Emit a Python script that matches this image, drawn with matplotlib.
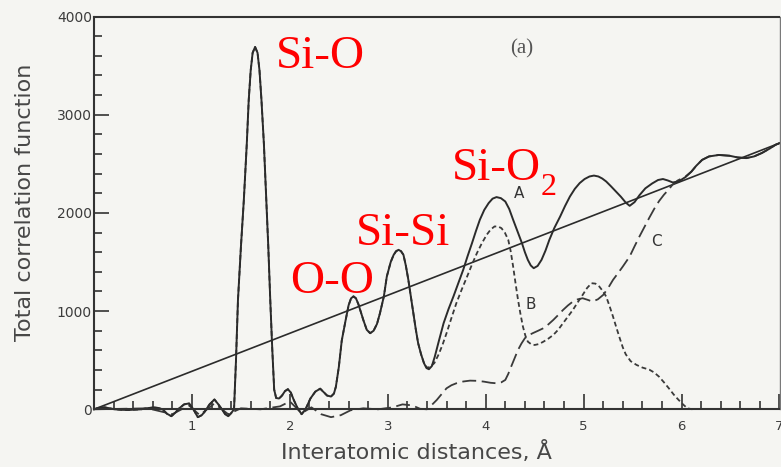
import matplotlib
matplotlib.use("Agg")
import matplotlib.pyplot as plt
from matplotlib.ticker import MultipleLocator, FixedLocator

plt.rcParams['lines.scale_dashes'] = False

# ---------------- data ----------------
# Curve A : total correlation function (solid)
A_x = [0.00, 0.05, 0.11, 0.16, 0.21, 0.28, 0.35, 0.42, 0.48, 0.55, 0.62, 0.66, 0.70, 0.745, 0.79,
       0.83, 0.87, 0.92, 0.97, 1.015, 1.06, 1.10, 1.13, 1.18, 1.23, 1.27, 1.31, 1.34, 1.37, 1.40,
       1.43, 1.45, 1.47, 1.50, 1.53, 1.56, 1.58, 1.60, 1.62, 1.645, 1.67, 1.69, 1.71, 1.735, 1.76,
       1.78, 1.80, 1.82, 1.84, 1.86, 1.89, 1.92, 1.95, 1.98, 2.01, 2.04, 2.08, 2.12, 2.16, 2.21,
       2.26, 2.31, 2.35, 2.38, 2.42, 2.45, 2.47, 2.50, 2.53, 2.57, 2.60, 2.625, 2.65, 2.675, 2.70,
       2.75, 2.785, 2.82, 2.855, 2.89, 2.92, 2.96, 2.99, 3.03, 3.06, 3.085, 3.11, 3.135, 3.16, 3.185,
       3.21, 3.235, 3.26, 3.285, 3.31, 3.34, 3.37, 3.395, 3.42, 3.45, 3.48, 3.52, 3.57, 3.62, 3.67,
       3.72, 3.77, 3.815, 3.86, 3.90, 3.94, 3.985, 4.03, 4.07, 4.11, 4.155, 4.20, 4.24, 4.28, 4.325,
       4.37, 4.40, 4.43, 4.46, 4.49, 4.53, 4.57, 4.61, 4.65, 4.70, 4.76, 4.81, 4.86, 4.91, 4.96,
       5.01, 5.06, 5.105, 5.15, 5.19, 5.23, 5.28, 5.33, 5.38, 5.43, 5.47, 5.52, 5.57, 5.63, 5.70,
       5.76, 5.81, 5.86, 5.91, 5.97, 6.04, 6.10, 6.15, 6.21, 6.28, 6.38, 6.49, 6.57, 6.66, 6.74,
       6.82, 6.90, 6.96, 7.00]
A_y = [0, 15, 20, 10, 0, -5, -7, -3, 0, 12, 20, 12, 0, -45, -70,
       -35, 10, 50, 60, 0, -80, -60, -25, 50, 100, 50, -5, -50, -70, -40,
       0, 500, 1110, 1650, 2130, 2700, 3150, 3450, 3630, 3690, 3630, 3450, 3150, 2700, 2130,
       1650, 1110, 620, 200, 115, 110, 140, 185, 205, 170, 95, 10, -50, 0, 110,
       180, 210, 170, 140, 130, 160, 230, 430, 700, 910, 1060, 1130, 1150, 1130, 1070,
       910, 810, 775, 800, 870, 978, 1150, 1352, 1500, 1573, 1610, 1624, 1610, 1573, 1460,
       1318, 1150, 978, 820, 673, 560, 469, 420, 408, 440, 536, 690, 877, 1020, 1148,
       1285, 1420, 1560, 1692, 1815, 1930, 2030, 2100, 2145, 2161, 2150, 2116, 2040, 1930, 1810,
       1692, 1600, 1522, 1465, 1437, 1460, 1522, 1615, 1726, 1845, 1963, 2070, 2167, 2245, 2304,
       2345, 2371, 2380, 2371, 2350, 2320, 2270, 2218, 2165, 2105, 2072, 2110, 2180, 2250, 2300,
       2335, 2345, 2330, 2310, 2320, 2365, 2420, 2480, 2540, 2575, 2590, 2582, 2565, 2558, 2575,
       2610, 2655, 2694, 2710]

# Curve B (short dashes): coincides with A up to x = 3.37, then its own branch
B_split = 3.37
B_tail_x = [3.40, 3.43, 3.475, 3.52, 3.56, 3.60, 3.65, 3.70, 3.755, 3.81, 3.86, 3.91, 3.96, 4.01,
            4.05, 4.09, 4.125, 4.16, 4.195, 4.23, 4.255, 4.28, 4.305, 4.33, 4.355, 4.38, 4.405,
            4.43, 4.465, 4.50, 4.545, 4.59, 4.64, 4.69, 4.74, 4.79, 4.84, 4.89, 4.94, 4.99, 5.035,
            5.08, 5.12, 5.16, 5.195, 5.23, 5.265, 5.30, 5.335, 5.37, 5.40, 5.43, 5.48, 5.54, 5.60,
            5.67, 5.72, 5.77, 5.82, 5.87, 5.92, 5.97, 6.02, 6.06, 6.11]
B_tail_y = [425, 430, 470, 560, 660, 775, 930, 1080, 1220, 1352, 1475, 1590, 1690, 1777,
            1830, 1862, 1862, 1845, 1800, 1726, 1610, 1454, 1280, 1114, 970, 842, 750,
            689, 662, 655, 665, 689, 720, 757, 810, 877, 945, 1012, 1090, 1165, 1235,
            1284, 1280, 1250, 1205, 1148, 1050, 944, 830, 720, 630, 560, 490, 452, 425,
            404, 375, 332, 275, 214, 150, 95, 45, 10, 0]

# Curve C (long dashes)
C_x = [0.00, 0.30, 0.55, 0.80, 0.97, 1.08, 1.23, 1.37, 1.50, 1.70, 1.90, 2.00, 2.12, 2.22, 2.32,
       2.42, 2.52, 2.62, 2.75, 2.90, 3.05, 3.15, 3.25, 3.33, 3.40, 3.45, 3.50, 3.55, 3.60, 3.65,
       3.70, 3.77, 3.84, 3.91, 3.98, 4.05, 4.11, 4.16, 4.20, 4.23, 4.26, 4.295, 4.33, 4.365, 4.40,
       4.44, 4.48, 4.535, 4.59, 4.64, 4.69, 4.74, 4.79, 4.84, 4.89, 4.94, 4.99, 5.04, 5.09, 5.145,
       5.20, 5.25, 5.30, 5.35, 5.40, 5.47, 5.52, 5.57, 5.62, 5.67, 5.72, 5.77, 5.82, 5.87, 5.91,
       5.96, 6.00, 6.04, 6.10, 6.15, 6.21, 6.28, 6.38, 6.49, 6.57, 6.66, 6.74, 6.82, 6.90, 6.96, 7.00]
C_y = [0, 5, 10, -50, 40, -60, 60, -50, 10, 0, 30, 80, -40, 20, -50,
       -80, -60, -10, 10, 0, 20, 50, 40, 5, 0, 45, 95, 155, 214, 245,
       265, 283, 292, 290, 282, 270, 265, 275, 299, 360, 435, 520, 605, 670, 724,
       755, 775, 800, 826, 865, 910, 960, 1012, 1058, 1097, 1120, 1131, 1115, 1097, 1120,
       1165, 1235, 1318, 1385, 1454, 1556, 1660, 1760, 1855, 1950, 2040, 2120, 2185, 2240, 2290,
       2330, 2350, 2370, 2420, 2480, 2540, 2575, 2590, 2582, 2565, 2558, 2575, 2610, 2655, 2694, 2710]

# Straight reference line
L_x = [0.0, 7.0]
L_y = [0, 2710]

x_ticks = [0, 1, 2, 3, 4, 5, 6, 7]
x_ticklabels = ['', '1', '2', '3', '4', '5', '6', '7']
y_ticks = [0, 1000, 2000, 3000, 4000]
y_ticklabels = ['0', '1000', '2000', '3000', '4000']

# ---------------- figure ----------------
W, H = 781, 467
bg = '#f5f5f2'
fig = plt.figure(figsize=(W / 100, H / 100), dpi=100, facecolor=bg)
ax = fig.add_axes([94 / W, (H - 409.3) / H, (779.5 - 94) / W, (409.3 - 16.5) / H])
ax.set_facecolor(bg)
ax.set_xlim(0, 7)
ax.set_ylim(0, 4000)

ink = '#2b2b2b'
B_x = [x for x in A_x if x <= B_split] + B_tail_x
B_y = [y for x, y in zip(A_x, A_y) if x <= B_split] + B_tail_y

ax.plot(L_x, L_y, color=ink, lw=1.2, clip_on=False)
ax.plot(C_x, C_y, color='#3a3a3a', lw=1.3, linestyle=(0, (10, 4)), clip_on=False)
ax.plot(B_x, B_y, color='#3a3a3a', lw=1.3, linestyle=(0, (3.5, 2.2)), clip_on=False)
ax.plot(A_x, A_y, color=ink, lw=1.4, clip_on=False)

# spines
for s in ['left', 'bottom', 'top']:
    ax.spines[s].set_color('#333333')
    ax.spines[s].set_linewidth(1.5)
ax.spines['right'].set_color('#7a7a7a')
ax.spines['right'].set_linewidth(1.0)

# ticks
ax.xaxis.set_major_locator(FixedLocator(x_ticks))
ax.set_xticklabels(x_ticklabels)
ax.xaxis.set_minor_locator(MultipleLocator(0.2))
ax.yaxis.set_major_locator(FixedLocator(y_ticks))
ax.set_yticklabels(y_ticklabels)
ax.yaxis.set_minor_locator(MultipleLocator(200))
ax.tick_params(which='both', direction='in', color='#333333', width=1.2,
               top=False, right=False, labelcolor='#3c3c3c')
ax.tick_params(which='major', length=11)
ax.tick_params(which='minor', length=6)
ax.tick_params(axis='x', which='major', pad=8, labelsize=9.5)
ax.tick_params(axis='y', which='major', pad=1.5, labelsize=10)
for lab in ax.get_xticklabels() + ax.get_yticklabels():
    lab.set_family('DejaVu Sans')

# axis labels
ax.set_ylabel('Total correlation function', fontsize=16, color='#474747',
              family='DejaVu Sans')
ax.yaxis.set_label_coords(-0.1, 0.526)
ax.yaxis.label.set_verticalalignment('center')
ax.set_xlabel('Interatomic distances, Å', fontsize=16, color='#474747',
              family='DejaVu Sans')
ax.xaxis.set_label_coords(0.4705, -0.109)
ax.xaxis.label.set_verticalalignment('center')

# red annotations
red = '#ff0000'
rk = dict(color=red, fontsize=34, family='Liberation Serif', ha='left', va='baseline')
ax.text(1.855, 3479, 'Si-O', **rk)
ax.text(2.005, 1189, 'O-O', **rk)
ax.text(2.67, 1675, 'Si-Si', **rk)
ax.text(3.65, 2337, 'Si-O', **rk)
ax.text(4.56, 2184, '2', color=red, fontsize=23, family='Liberation Serif',
        ha='left', va='baseline')

# curve labels
lk = dict(color='#333333', fontsize=11, family='DejaVu Sans', ha='center', va='center')
ax.text(4.34, 2195, 'A', **lk)
ax.text(4.46, 1063, 'B', **lk)
ax.text(5.74, 1705, 'C', **lk)
ax.text(4.37, 3672, '(a)', color='#555555', fontsize=15, family='Liberation Serif',
        ha='center', va='center')

fig.savefig('out.png', dpi=100, facecolor=bg)
